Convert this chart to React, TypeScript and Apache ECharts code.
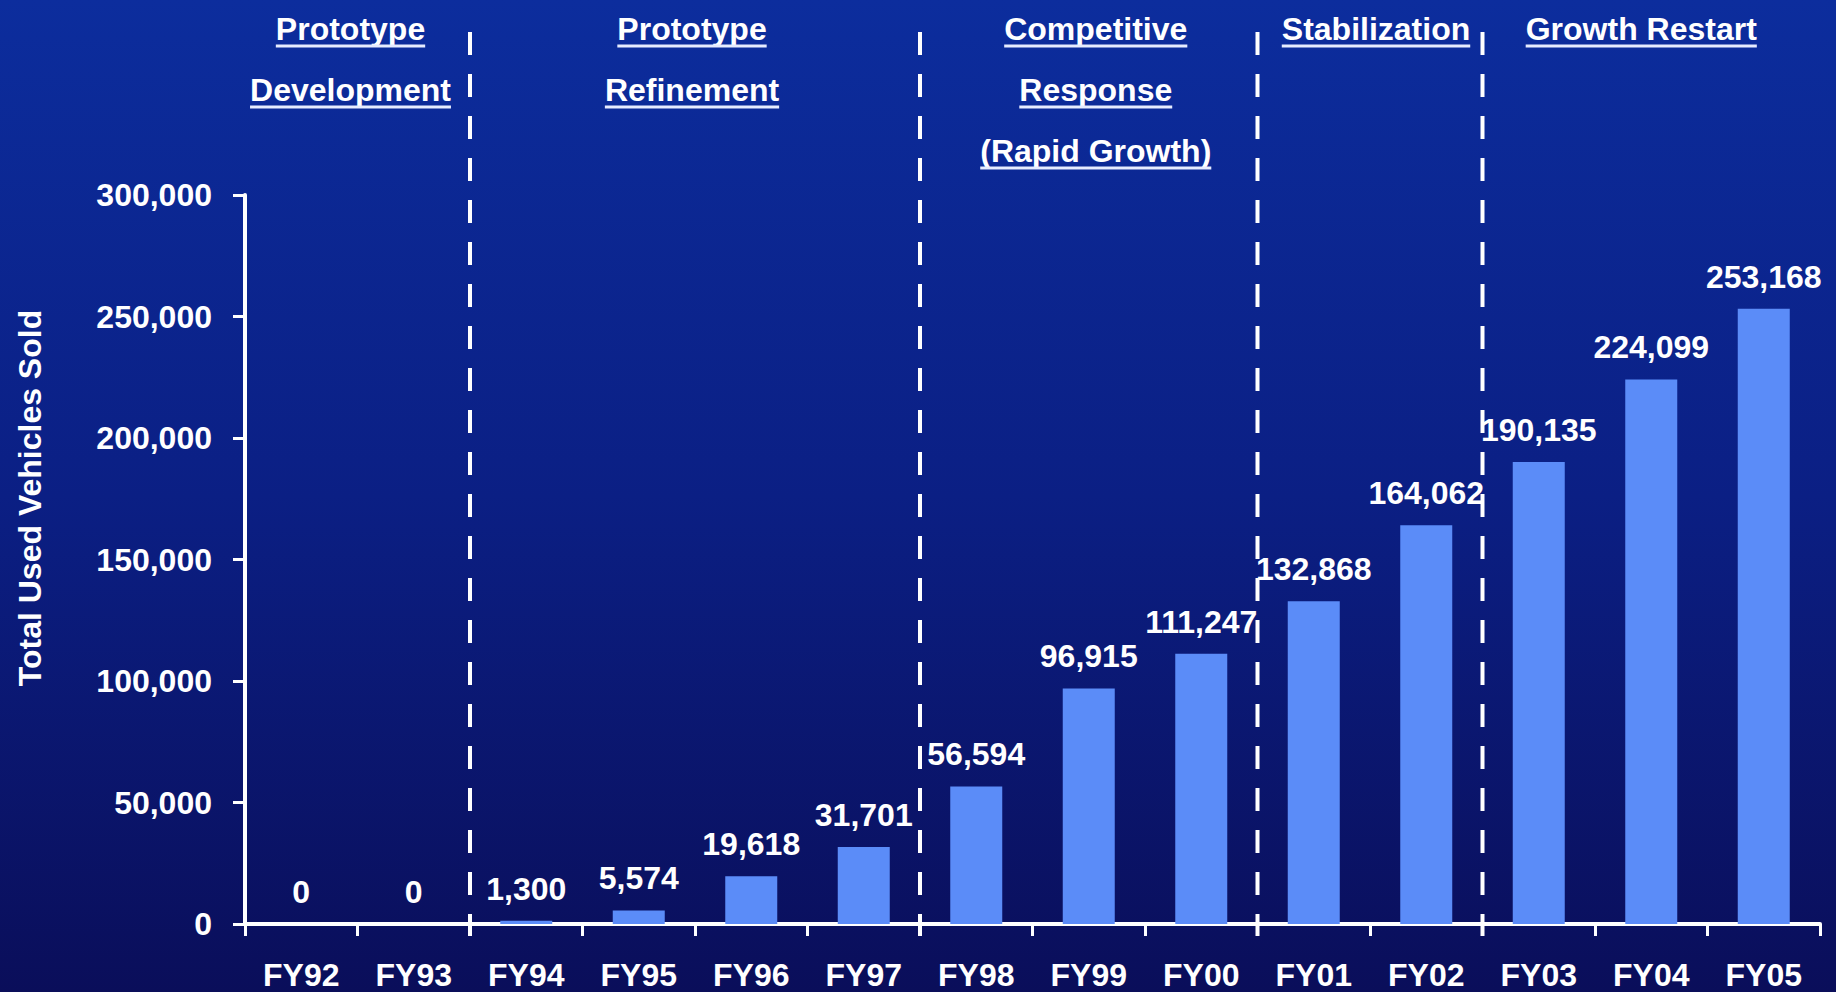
import React, { useEffect, useRef } from 'react';
import * as echarts from 'echarts';

const categories = ['FY92', 'FY93', 'FY94', 'FY95', 'FY96', 'FY97', 'FY98', 'FY99', 'FY00', 'FY01', 'FY02', 'FY03', 'FY04', 'FY05'];
const vehiclesSold = [0, 0, 1300, 5574, 19618, 31701, 56594, 96915, 111247, 132868, 164062, 190135, 224099, 253168];
const yMin = 0;
const yMax = 300000;
const yInterval = 50000;
const yAxisName = 'Total Used Vehicles Sold';
const phaseLabels = [
  ['Prototype', 'Development'],
  ['Prototype', 'Refinement'],
  ['Competitive', 'Response', '(Rapid Growth)'],
  ['Stabilization'],
  ['Growth Restart'],
];
const phaseFirst = ['FY92', 'FY94', 'FY98', 'FY01', 'FY03'];
const phaseLast = ['FY93', 'FY97', 'FY00', 'FY02', 'FY05'];
// small horizontal nudges of the header blocks (pixels, styling only)
const phaseNudge = [-7, -3, 7, 6, -10];

const fmt = (v: number) => Number(v).toLocaleString('en-US');

export default function App() {
  const ref = useRef<HTMLDivElement>(null);
  useEffect(() => {
    const el = ref.current!;
    const chart = echarts.init(el, null, { renderer: 'svg' });
    const fontFamily = '"Liberation Sans", Arial, sans-serif';
    const fontSize = 32;
    const white = '#ffffff';
    chart.setOption({
      animation: false,
      backgroundColor: new echarts.graphic.LinearGradient(0, 0, 0, 1, [
        { offset: 0, color: '#0c2d9d' },
        { offset: 0.5, color: '#0b1f84' },
        { offset: 1, color: '#0a0e5a' },
      ]),
      grid: { left: 245, right: 16, top: 195, bottom: 68, outerBoundsMode: 'none' },
      xAxis: {
        type: 'category',
        data: categories,
        axisLine: { lineStyle: { color: white, width: 4 } },
        axisTick: { show: true, alignWithLabel: false, length: 12, lineStyle: { color: white, width: 3 } },
        axisLabel: { color: white, fontSize, fontWeight: 'bold', fontFamily, margin: 35 },
        splitLine: { show: false },
      },
      yAxis: {
        type: 'value',
        min: yMin,
        max: yMax,
        interval: yInterval,
        axisLine: { show: true, lineStyle: { color: white, width: 4 } },
        axisTick: { show: true, length: 12, lineStyle: { color: white, width: 3 } },
        axisLabel: { color: white, fontSize, fontWeight: 'bold', fontFamily, margin: 33, formatter: (v: number) => fmt(v) },
        splitLine: { show: false },
      },
      series: [
        {
          type: 'bar',
          data: vehiclesSold,
          barWidth: 52,
          itemStyle: { color: '#5b8cf8' },
          label: {
            show: true,
            position: 'top',
            distance: 16,
            color: white,
            fontSize,
            fontWeight: 'bold',
            fontFamily,
            formatter: (p: any) => fmt(p.value),
          },
        },
      ],
    });

    const px = (c: string) => chart.convertToPixel({ xAxisIndex: 0 }, c) as number;
    const canvas = document.createElement('canvas');
    const ctx = canvas.getContext('2d')!;
    ctx.font = `bold ${fontSize}px ${fontFamily}`;

    const graphics: any[] = [];
    for (let p = 1; p < phaseFirst.length; p++) {
      const x = (px(phaseLast[p - 1]) + px(phaseFirst[p])) / 2;
      graphics.push({
        type: 'line',
        shape: { x1: x, y1: 32, x2: x, y2: 936 },
        style: { stroke: white, lineWidth: 4, lineDash: [23, 19] },
        z: 10,
      });
    }
    const firstLineY = 29;
    const lineGap = 61;
    phaseLabels.forEach((lines, p) => {
      const cx = (px(phaseFirst[p]) + px(phaseLast[p])) / 2 + phaseNudge[p];
      lines.forEach((t, i) => {
        const cy = firstLineY + i * lineGap;
        const w = ctx.measureText(t).width;
        graphics.push({
          type: 'text',
          x: cx,
          y: cy,
          style: {
            text: t,
            fill: white,
            fontSize,
            fontWeight: 'bold',
            fontFamily,
            align: 'center',
            verticalAlign: 'middle',
            textAlign: 'center',
            textVerticalAlign: 'middle',
          },
          z: 10,
        });
        graphics.push({
          type: 'line',
          shape: { x1: cx - w / 2, y1: cy + 17, x2: cx + w / 2, y2: cy + 17 },
          style: { stroke: '#e6ecff', lineWidth: 3 },
          z: 10,
        });
      });
    });
    graphics.push({
      type: 'text',
      x: 30,
      y: 498,
      rotation: Math.PI / 2,
      style: {
        text: yAxisName,
        fill: white,
        fontSize,
        fontWeight: 'bold',
        fontFamily,
        align: 'center',
        verticalAlign: 'middle',
        textAlign: 'center',
        textVerticalAlign: 'middle',
      },
      z: 10,
    });
    chart.setOption({ graphic: graphics });

    return () => chart.dispose();
  }, []);
  return <div ref={ref} style={{ position: 'fixed', left: 0, top: 0, width: 1836, height: 992 }} />;
}
